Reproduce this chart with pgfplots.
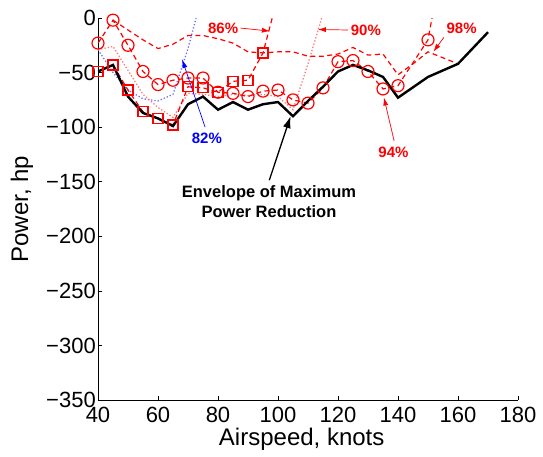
\documentclass[border=0pt]{standalone}
\usepackage{pgfplots}
\pgfplotsset{compat=1.18}
\usepackage{fontspec}
\setmainfont{Liberation Sans}
\usetikzlibrary{arrows.meta}
\definecolor{lightred}{RGB}{255,120,120}
\definecolor{lightblue}{RGB}{110,110,255}
\begin{document}
\begin{tikzpicture}
\begin{axis}[
    at={(0,0)}, anchor=south west,
    scale only axis,
    width=420pt, height=382pt,
    xmin=40, xmax=180, ymin=-350, ymax=0,
    axis lines*=left,
    axis line style={black, line width=0.8pt},
    xtick={40,60,...,180},
    ytick={-350,-300,...,0},
    yticklabels={−350,−300,−250,−200,−150,−100,−50,0},
    tick align=inside,
    major tick length=4pt,
    tick style={black, line width=0.6pt},
    tick label style={font=\fontsize{22}{24}\selectfont},
    xticklabel style={yshift=-4pt},
    yticklabel style={inner sep=2pt},
    /pgf/number format/assume math mode=true,
    xlabel={Airspeed, knots},
    ylabel={Power, hp},
    every axis x label/.style={at={(axis description cs:0.485,-0.104)}, anchor=center,
      font=\fontsize{24}{26}\selectfont},
    every axis y label/.style={at={(axis description cs:-0.181,0.5)}, anchor=center, rotate=90,
      font=\fontsize{24}{26}\selectfont},
]
% 82% (blue dotted)
\addplot[lightblue, dotted, line width=1.3pt] coordinates {
(40,-29)(45,-50)(50,-66)(55,-74)(60,-76)(65,-70)(70,-28)(73,3)};
% 90% (light red dotted)
\addplot[lightred, dotted, line width=1.3pt] coordinates {
(40,-29)(45,-26)(50,-48)(55,-70)(60,-82)(65,-91)(70,-69)(75,-70)(80,-72)(85,-70)
(90,-71)(95,-70)(100,-72)(105,-84)(110,-42)(115,4)};
% upper dashed curve
\addplot[red, dash pattern=on 5pt off 3.5pt, line width=1.2pt] coordinates {
(45,-2)(50,-11)(55,-20)(60,-28)(65,-24)(70,-16)(75,-16)(80,-19)(85,-23)(90,-31)
(95,-32)(100,-31)(105,-31)(110,-35)(115,-35)(120,-33)(125,-27)(130,-34)(135,-33)
(140,-52)(145,-42)(150,-31)(160,-42)};
% 86% (squares)
\addplot[red, dash pattern=on 5pt off 3.5pt, line width=1.2pt,
  mark=square, mark size=5pt, mark options={solid, line width=1.2pt}] coordinates {
(40,-49)(45,-43)(50,-66)(55,-86)(60,-92)(65,-98)(70,-63)(75,-64)(80,-68)(85,-58)
(90,-57)(95,-32)(100,20)};
% circles
\addplot[red, dash pattern=on 5pt off 3.5pt, line width=1.2pt,
  mark=o, mark size=6pt, mark options={solid, line width=1.2pt}] coordinates {
(40,-23)(45,-2)(50,-25)(55,-49)(60,-61)(65,-57)(70,-55)(75,-55)(80,-68)(85,-69)
(90,-72)(95,-67)(100,-66)(105,-75)(110,-78)(115,-64)(120,-40)(125,-39)(130,-49)
(135,-65)(140,-62)(150,-20)(152,10)};
% envelope
\addplot[black, line width=2.4pt] coordinates {
(40,-49)(45,-43)(50,-72)(55,-87)(60,-92)(65,-99)(70,-79)(75,-72)(80,-84)(85,-77)
(90,-84)(95,-79)(100,-77)(105,-90)(110,-76)(115,-63)(120,-49)(125,-43)(130,-48)
(135,-54)(140,-73)(150,-54)(160,-42)(170,-13)};

% annotations
\begin{scope}[font=\bfseries\fontsize{15}{18}\selectfont]
\node[blue] at (axis cs:76.3,-110) {82\%};
\draw[blue, line width=0.7pt, -{Latex[length=9pt,width=5pt]}] (axis cs:75.7,-100) -- (axis cs:68,-37.6);
\node[red] at (axis cs:81.7,-9.2) {86\%};
\draw[red, line width=0.7pt, -{Latex[length=8pt,width=5pt]}] (axis cs:87.5,-9.2) -- (axis cs:97.3,-12);
\node[red] at (axis cs:129.3,-11) {90\%};
\draw[red, line width=0.7pt, -{Latex[length=8pt,width=5pt]}] (axis cs:123.3,-11) -- (axis cs:113.3,-10.5);
\node[red] at (axis cs:138.5,-123) {94\%};
\draw[red, line width=0.7pt, -{Latex[length=8pt,width=5pt]}] (axis cs:138.7,-112.5) -- (axis cs:135.3,-72.8);
\node[red] at (axis cs:161.2,-9.5) {98\%};
\draw[red, line width=0.7pt, -{Latex[length=8pt,width=5pt]}] (axis cs:155.3,-17.7) -- (axis cs:151.8,-30.9);
\node[black, align=center, font=\bfseries\fontsize{16.5}{20}\selectfont] at (axis cs:97,-168.5)
  {Envelope of Maximum\\Power Reduction};
\draw[black, line width=1.3pt, -{Latex[length=12pt,width=8pt]}] (axis cs:97.1,-148.6) -- (axis cs:104.2,-89.9);
\end{scope}
\end{axis}
\pgfresetboundingbox
\path[use as bounding box] (-98pt,-56pt) rectangle (445pt,400pt);
\end{tikzpicture}
\end{document}
